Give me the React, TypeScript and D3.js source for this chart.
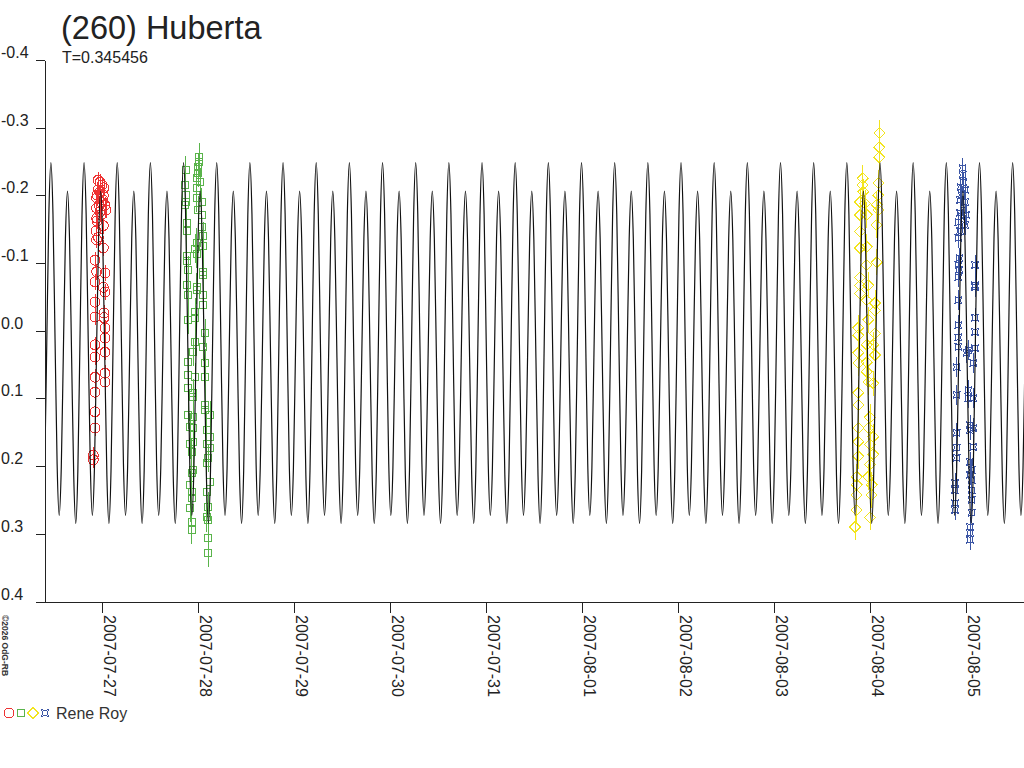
import React from "react";
import * as d3 from "d3";

// ---- data ----
const TITLE = "(260) Huberta";
const SUBTITLE = "T=0.345456";
const OBSERVER = "Rene Roy";
const COPYRIGHT = "©2026 OdG-RB";

const PERIOD_DAYS = 0.345456;
// time of the brighter maximum, days after 2007-07-27 00:00 UT
const EPOCH_DAYS = 2.9223;
// model light curve over one period (16 equal phase steps from the brighter maximum)
const phaseProfile = [
  -0.249, -0.173, 0.012, 0.196, 0.272, 0.202, 0.033, -0.137,
  -0.207, -0.135, 0.039, 0.212, 0.284, 0.206, 0.018, -0.171,
];

const yTickValues = [-0.4, -0.3, -0.2, -0.1, 0.0, 0.1, 0.2, 0.3, 0.4];
const yTickLabels = ["-0.4", "-0.3", "-0.2", "-0.1", "0.0", "0.1", "0.2", "0.3", "0.4"];
const xTickDates = [
  "2007-07-27", "2007-07-28", "2007-07-29", "2007-07-30", "2007-07-31",
  "2007-08-01", "2007-08-02", "2007-08-03", "2007-08-04", "2007-08-05",
];

// observations: [hours after 2007-07-27 00:00 UT, magnitude]
const session1: [number, number][] = [
  [-0.5, -0.22], [-0.925, -0.209], [0.325, -0.201], [-1.325, -0.197], [-0.075, -0.19],
  [0.75, -0.186], [-1.325, -0.182], [-0.5, -0.176], [-1.325, -0.167], [0.325, -0.156],
  [-1.5, -0.148], [-0.925, -0.139], [-1.325, -0.135], [0.325, -0.123], [-1.75, -0.105],
  [-1.325, -0.088], [0.75, -0.086], [-1.75, -0.073], [0.325, -0.065], [0.75, -0.058],
  [-1.75, -0.043], [-1.75, -0.021], [0.5, -0.027], [0.5, -0.02], [0.75, -0.005],
  [0.75, 0.01], [-1.75, 0.02], [-1.75, 0.038], [0.75, 0.031], [-1.75, 0.068],
  [0.75, 0.062], [0.75, 0.075], [-1.75, 0.09], [-1.75, 0.119], [-1.75, 0.143],
  [-2.175, 0.183], [-2.175, 0.19],
  [-1.0, -0.223], [0, -0.216], [0.5, -0.212], [-0.5, -0.206], [-1.25, -0.201],
  [0.25, -0.194], [-0.75, -0.186], [1.0, -0.179], [-0.25, -0.172], [-1.25, -0.163],
];
const session2: [number, number][] = [
  [24.25, -0.257], [24.25, -0.25], [24.075, -0.243], [20.925, -0.238], [24.075, -0.234],
  [23.675, -0.226], [24.5, -0.22], [20.75, -0.216], [23.675, -0.212], [20.925, -0.201],
  [23.675, -0.197], [20.925, -0.191], [20.75, -0.187], [24.925, -0.191], [24.075, -0.179],
  [24.925, -0.172], [21.175, -0.16], [21.175, -0.148], [24.925, -0.154], [25.325, -0.141],
  [23.675, -0.131], [25.325, -0.126], [23.25, -0.122], [23.675, -0.114], [21.175, -0.111],
  [21.175, -0.104], [21.575, -0.09], [25.325, -0.088], [25.325, -0.083], [21.175, -0.068],
  [23.675, -0.065], [23.675, -0.061], [21.575, -0.054], [25.325, -0.054], [25.325, -0.039],
  [23.25, -0.028], [21.575, -0.017], [23.25, -0.02], [25.75, 0.003], [23.25, 0.016],
  [25.325, 0.023], [22.825, 0.031], [21.575, 0.046], [25.75, 0.047], [23.25, 0.068],
  [21.575, 0.065], [25.75, 0.068], [21.575, 0.084], [22.825, 0.091], [22.825, 0.097],
  [25.75, 0.109], [25.75, 0.116], [27.0, 0.124], [21.575, 0.124], [22.825, 0.127],
  [22.0, 0.142], [22.825, 0.143], [26.175, 0.146], [27.0, 0.156], [22.825, 0.163],
  [22.0, 0.167], [26.175, 0.167], [27.0, 0.172], [26.575, 0.187], [22.425, 0.179],
  [26.175, 0.194], [22.825, 0.205], [22.425, 0.209], [27.0, 0.222], [26.175, 0.237],
  [22.0, 0.227], [22.425, 0.238], [22.425, 0.246], [22.0, 0.261], [26.575, 0.259],
  [26.175, 0.275], [26.575, 0.279], [22.425, 0.282], [22.425, 0.294], [26.575, 0.306],
  [26.575, 0.328],
];
const session3: [number, number][] = [
  [194.325, -0.293], [194.325, -0.272], [194.325, -0.257], [190.175, -0.226], [190.175, -0.216],
  [194.075, -0.219], [190.325, -0.206], [194.075, -0.201], [189.5, -0.191], [190.75, -0.189],
  [193.675, -0.187], [194.075, -0.179], [191.175, -0.172], [189.5, -0.172], [193.675, -0.157],
  [189.5, -0.147], [191.175, -0.125], [189.5, -0.123], [193.675, -0.102], [191.175, -0.098],
  [189.5, -0.079], [189.5, -0.068], [191.575, -0.068], [189.5, -0.056], [191.175, -0.046],
  [193.25, -0.042], [193.25, -0.031], [191.575, -0.017], [189.075, -0.005], [189.075, 0.006],
  [193.25, 0.003], [191.175, 0.02], [192.825, 0.02], [193.25, 0.035], [189.075, 0.032],
  [191.175, 0.046], [189.075, 0.047], [191.175, 0.06], [191.575, 0.075], [192.825, 0.077],
  [189.075, 0.091], [189.075, 0.109], [192.0, 0.127], [191.575, 0.143], [189.075, 0.143],
  [192.825, 0.156], [189.075, 0.163], [192.0, 0.167], [192.825, 0.182], [189.075, 0.185],
  [192.0, 0.197], [188.675, 0.215], [191.575, 0.215], [188.675, 0.227], [192.425, 0.227],
  [188.675, 0.242], [192.425, 0.242], [188.675, 0.264], [192.0, 0.275], [188.25, 0.289],
];
const session4: [number, number][] = [
  [215.175, -0.241], [215.175, -0.231], [215.325, -0.22], [214.675, -0.213], [215.75, -0.209],
  [214.925, -0.201], [214.5, -0.194], [215.75, -0.191], [215.325, -0.179], [214.5, -0.175],
  [216.0, -0.172], [214.075, -0.161], [215.75, -0.157], [214.5, -0.148], [214.075, -0.138],
  [214.325, -0.108], [214.075, -0.098], [214.325, -0.091], [214.075, -0.08], [218.25, -0.098],
  [218.25, -0.068], [218.25, -0.065], [214.075, -0.046], [218.25, -0.02], [214.075, -0.009],
  [218.25, 0.001], [214.075, 0.009], [214.075, 0.023], [216.575, 0.028], [218.25, 0.025],
  [216.175, 0.032], [217.825, 0.047], [213.675, 0.053], [216.575, 0.087], [213.675, 0.094],
  [216.575, 0.099], [217.825, 0.099], [217.0, 0.139], [217.0, 0.146], [217.825, 0.143],
  [213.675, 0.15], [217.825, 0.171], [213.675, 0.172], [213.675, 0.187], [217.0, 0.193],
  [217.425, 0.205], [217.0, 0.212], [213.25, 0.224], [213.25, 0.235], [217.425, 0.22],
  [217.425, 0.235], [217.425, 0.249], [213.25, 0.254], [213.25, 0.264], [217.425, 0.268],
  [217.0, 0.289], [217.0, 0.298], [217.0, 0.308],
];
// typical error bar half-length per session (mag)
const sessionErrors = [0.012, 0.021, 0.019, 0.015];
const sessionColors = ["#ee3333", "#5ab44b", "#f2e41e", "#3b55a5"];
const sessionSymbols = ["circle", "square", "diamond", "star"];

// ---- drawing ----
const BASE = Date.UTC(2007, 6, 27);
const HOUR = 3600e3;
const DAY = 864e5;
const FONT = "'Liberation Sans', Arial, Helvetica, sans-serif";
const INK = "#222";

const x = d3.scaleUtc().domain([new Date(BASE), new Date(BASE + 9 * DAY)]).range([102, 966]);
const y = d3.scaleLinear().domain([-0.4, 0.4]).range([60.5, 602]);

const PLOT_LEFT = 45;
const PLOT_RIGHT = 1024;
const PLOT_BOTTOM = 602;

function symbolPath(kind: string): string | null {
  if (kind === "diamond") return "M0,-5.5L5.5,0L0,5.5L-5.5,0Z";
  if (kind === "star") return "M-3.6,-3.6Q0,-1.4 3.6,-3.6Q1.4,0 3.6,3.6Q0,1.4 -3.6,3.6Q-1.4,0 -3.6,-3.6Z";
  return null;
}

function Marker({ kind, color, cx, cy, scale = 1 }: { kind: string; color: string; cx: number; cy: number; scale?: number }) {
  if (kind === "circle") return <circle cx={cx} cy={cy} r={5 * scale} fill="none" stroke={color} strokeWidth={1} />;
  if (kind === "square") {
    const s = 7 * scale;
    return <rect x={cx - s / 2} y={cy - s / 2} width={s} height={s} fill="none" stroke={color} strokeWidth={1} />;
  }
  return (
    <path d={symbolPath(kind) as string} transform={`translate(${cx},${cy}) scale(${scale})`} fill="none" stroke={color} strokeWidth={1 / scale} />
  );
}

export default function App() {
  const sessions = [session1, session2, session3, session4];

  // tile the phase profile over the visible time range
  const tStart = x.invert(PLOT_LEFT).getTime();
  const tEnd = x.invert(PLOT_RIGHT).getTime();
  const pMs = PERIOD_DAYS * DAY;
  const epochMs = BASE + EPOCH_DAYS * DAY;
  const kStart = Math.floor((tStart - epochMs) / pMs) - 1;
  const kEnd = Math.ceil((tEnd - epochMs) / pMs) + 1;
  const n = phaseProfile.length;
  const curvePts: [number, number][] = [];
  for (let k = kStart; k <= kEnd; k++) {
    for (let i = 0; i < n; i++) {
      const t = epochMs + (k + i / n) * pMs;
      curvePts.push([x(new Date(t)), y(phaseProfile[i])]);
    }
  }
  const line = d3.line().curve(d3.curveMonotoneX)(curvePts) || "";

  return (
    <svg
      width={1024}
      height={768}
      style={{ position: "absolute", left: 0, top: 0, background: "#fff" }}
      fontFamily={FONT}
    >
      <defs>
        <clipPath id="plotClip">
          <rect x={PLOT_LEFT} y={0} width={PLOT_RIGHT - PLOT_LEFT} height={PLOT_BOTTOM} />
        </clipPath>
      </defs>
      <rect x={0} y={0} width={1024} height={768} fill="#fff" />

      {/* title */}
      <text x={61} y={38.5} fontSize={32.5} fill={INK}>{TITLE}</text>
      <text x={62} y={63.3} fontSize={16} fill={INK}>{SUBTITLE}</text>

      {/* observations */}
      <g clipPath="url(#plotClip)">
        <g shapeRendering="crispEdges">
          {sessions.map((s, si) => (
            <g key={si}>
              {s.map(([h, m], i) => {
                const cx = x(new Date(BASE + h * HOUR));
                const cy = y(m);
                const e = sessionErrors[si];
                return (
                  <g key={i}>
                    <line x1={cx} x2={cx} y1={y(m - e)} y2={y(m + e)} stroke={sessionColors[si]} strokeWidth={1} />
                    <Marker kind={sessionSymbols[si]} color={sessionColors[si]} cx={cx} cy={cy} />
                  </g>
                );
              })}
            </g>
          ))}
        </g>
        {/* model curve */}
        <path d={line} fill="none" stroke="#111" strokeWidth={1.2} />
      </g>

      {/* axes */}
      <g shapeRendering="crispEdges">
        <line x1={PLOT_LEFT} x2={PLOT_LEFT} y1={y(-0.4)} y2={PLOT_BOTTOM} stroke={INK} />
        {yTickValues.map((v) => (
          <line key={v} x1={36} x2={PLOT_LEFT} y1={y(v)} y2={y(v)} stroke={INK} />
        ))}
        <line x1={36} x2={PLOT_RIGHT} y1={PLOT_BOTTOM} y2={PLOT_BOTTOM} stroke={INK} />
        {xTickDates.map((d) => {
          const px = x(new Date(d + "T00:00:00Z"));
          return <line key={d} x1={px} x2={px} y1={PLOT_BOTTOM} y2={613} stroke={INK} />;
        })}
      </g>
      {yTickValues.map((v, i) => (
        <text key={v} x={1} y={y(v) - 2.5} fontSize={16} fill={INK}>{yTickLabels[i]}</text>
      ))}
      {xTickDates.map((d) => {
        const px = x(new Date(d + "T00:00:00Z"));
        return (
          <text key={d} transform={`translate(${px + 1.5},615) rotate(90)`} fontSize={16} fill={INK}>
            {d}
          </text>
        );
      })}

      {/* copyright */}
      <text transform="translate(2,615) rotate(90)" fontSize={8.5} fontWeight="bold" fill="#333">{COPYRIGHT}</text>

      {/* legend */}
      <g shapeRendering="crispEdges">
        {sessionSymbols.map((k, i) => (
          <Marker key={k} kind={k} color={sessionColors[i]} cx={9 + i * 12} cy={713} scale={1} />
        ))}
      </g>
      <text x={56} y={718.5} fontSize={16} fill="#333">{OBSERVER}</text>
    </svg>
  );
}
